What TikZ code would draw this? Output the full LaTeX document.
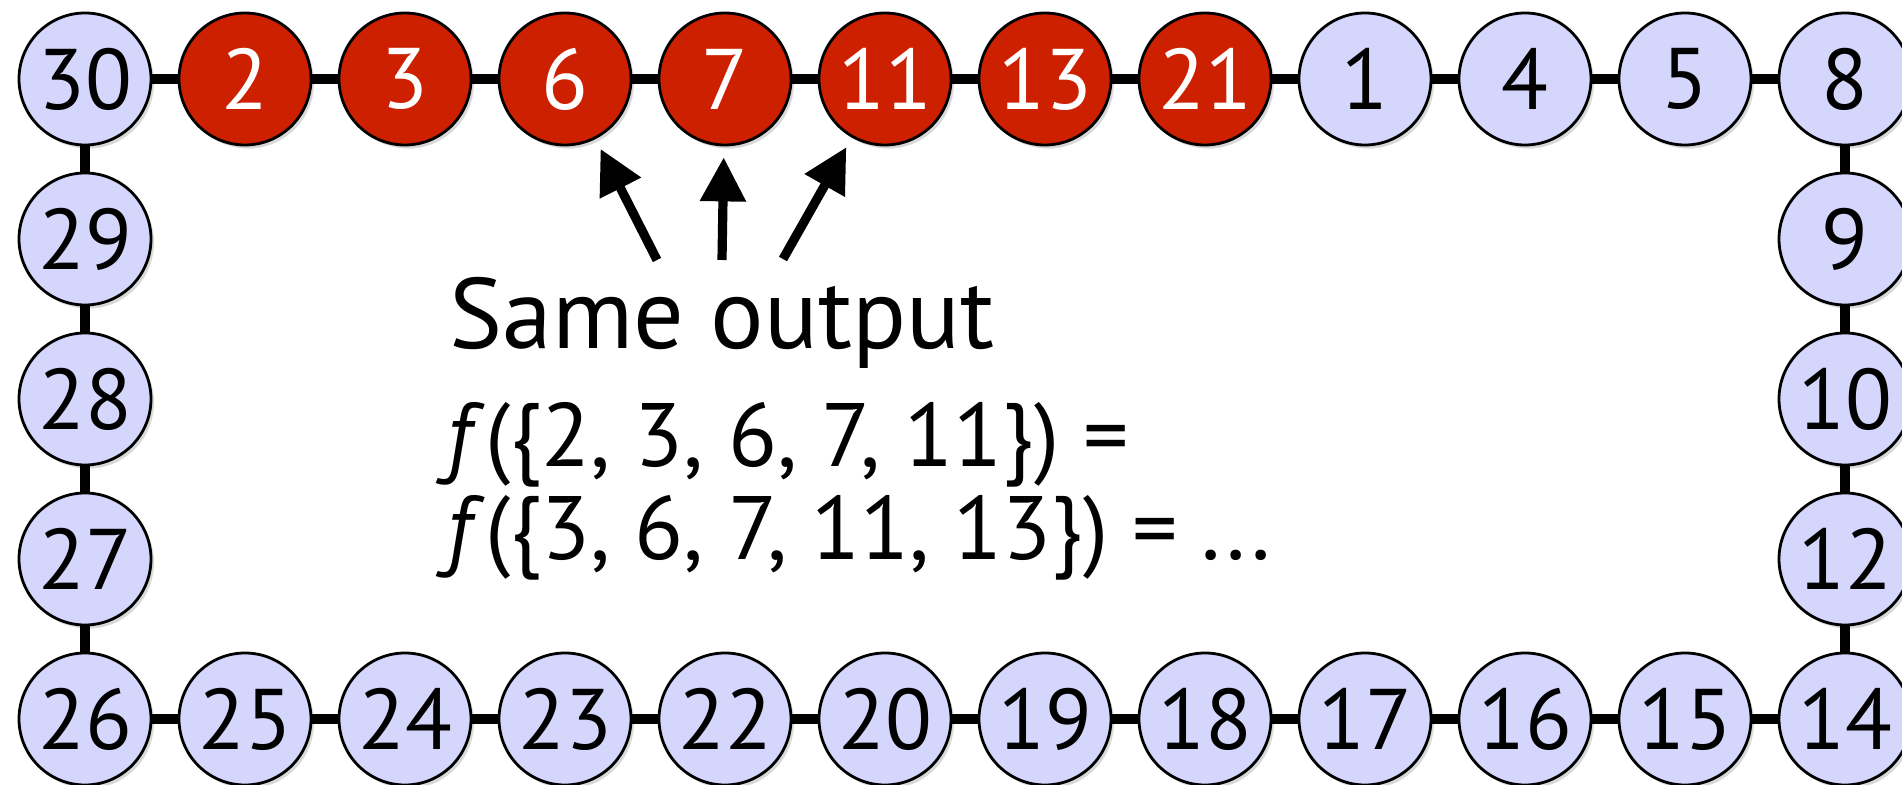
\documentclass[tikz,border=0pt]{standalone}
\usepackage{fontspec}
\setmainfont{PT Sans}
\usetikzlibrary{arrows.meta,shadows}
\definecolor{nodeblue}{RGB}{213,214,252}
\definecolor{nodered}{RGB}{204,32,0}
\begin{document}
\begin{tikzpicture}[x=0.5pt,y=-0.5pt,
  vtx/.style={circle,draw=black,line width=1.4pt,minimum size=66pt,inner sep=0pt,
    font=\fontsize{43}{43}\selectfont,
    drop shadow={shadow xshift=1.5pt,shadow yshift=-1.8pt,opacity=0.3}},
  bvtx/.style={vtx,fill=nodeblue,text=black},
  rvtx/.style={vtx,fill=nodered,text=white},
  link/.style={line width=5pt},
  pointer/.style={line width=4.6pt,-{Triangle[length=22pt,width=22pt]},shorten >=5.5pt},
  lbl/.style={anchor=base west,inner sep=0pt}
]
\useasboundingbox (0,0) rectangle (1902,785);
% top row
\foreach \lab/\st [count=\i from 0] in {30/bvtx,2/rvtx,3/rvtx,6/rvtx,7/rvtx,11/rvtx,13/rvtx,21/rvtx,1/bvtx,4/bvtx,5/bvtx,8/bvtx}
  \node[\st] (n\lab) at (85+160*\i,79) {\lab};
% bottom row
\foreach \lab [count=\i from 0] in {26,25,24,23,22,20,19,18,17,16,15,14}
  \node[bvtx] (n\lab) at (85+160*\i,719) {\lab};
% left column
\foreach \lab [count=\i from 1] in {29,28,27}
  \node[bvtx] (n\lab) at (85,79+160*\i) {\lab};
% right column
\foreach \lab [count=\i from 1] in {9,10,12}
  \node[bvtx] (n\lab) at (1845,79+160*\i) {\lab};
% ring links
\foreach \a/\b in {30/2,2/3,3/6,6/7,7/11,11/13,13/21,21/1,1/4,4/5,5/8,8/9,9/10,10/12,12/14,14/15,15/16,16/17,17/18,18/19,19/20,20/22,22/23,23/24,24/25,25/26,26/27,27/28,28/29,29/30}
  \draw[link] (n\a) -- (n\b);
% arrows
\coordinate (tl) at (657,260);
\coordinate (tm) at (722,260);
\coordinate (tr) at (783,259);
\draw[pointer] (tl) -- (n6);
\draw[pointer] (tm) -- (n7);
\draw[pointer] (tr) -- (n11);
% texts
\node[lbl,font=\fontsize{50}{50}\selectfont] (same) at (449,349) {Same output};
\node[lbl,font=\fontsize{45}{45}\selectfont] (eqa) at (446,467) {\textit{f}(\{2, 3, 6, 7, 11\}) =};
\node[lbl,font=\fontsize{45}{45}\selectfont] (eqb) at (446,560) {\textit{f}(\{3, 6, 7, 11, 13\}) = ...};
\end{tikzpicture}
\end{document}
